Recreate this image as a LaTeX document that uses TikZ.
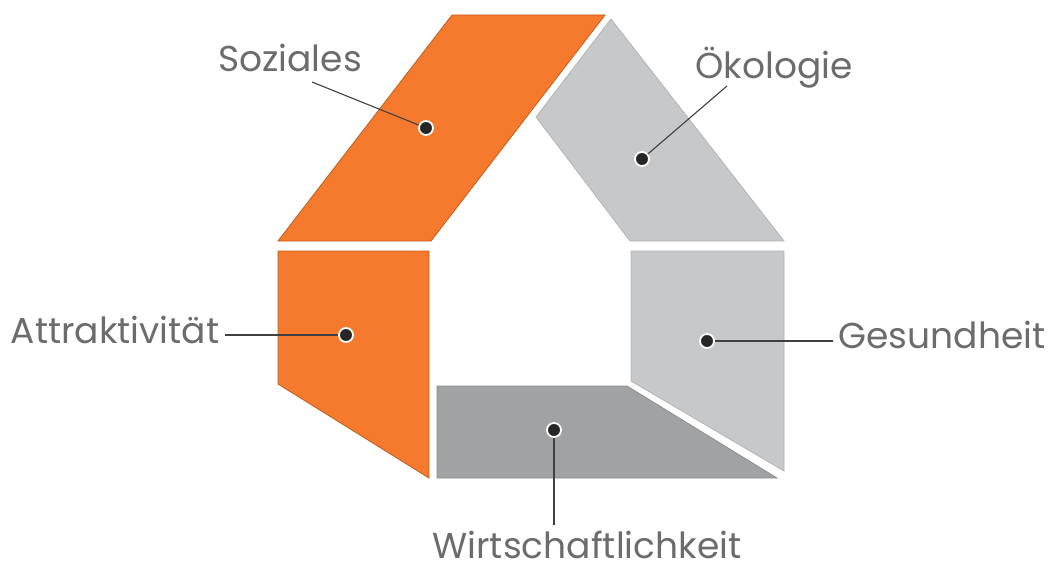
\documentclass[tikz,border=0pt]{standalone}
\usepackage{fontspec}
\setmainfont{Poppins}
\usepackage{tikz}
\usetikzlibrary{positioning}
\definecolor{hausorange}{RGB}{246,122,46}
\definecolor{hausorangerand}{RGB}{196,92,24}
\definecolor{hausgrau}{RGB}{198,200,202}
\definecolor{hausgraurand}{RGB}{178,180,182}
\definecolor{hausdunkel}{RGB}{160,162,164}
\definecolor{hausdunkelrand}{RGB}{140,142,144}
\definecolor{textgrau}{RGB}{108,108,108}

\begin{document}
\begin{tikzpicture}[x=1pt,y=-1pt,
  lbl/.style={font=\fontsize{36}{42}\selectfont,text=textgrau,anchor=base,inner sep=0pt,outer sep=6pt},
  dot/.style={circle,fill=black!85,draw=white,line width=1.8pt,minimum size=14pt,inner sep=0pt},
  leader/.style={draw=black!75,line width=1.1pt},
  part/.style={line width=0.8pt,line join=miter}
]
  \useasboundingbox (0,0) rectangle (1051,572);
  % Dach und Waende
  \filldraw[part,fill=hausorange,draw=hausorangerand] (452,15) -- (605,15) -- (431,241) -- (278,241) -- cycle;
  \filldraw[part,fill=hausgrau,draw=hausgraurand] (611,19) -- (784,241) -- (630,241) -- (536,117) -- cycle;
  \filldraw[part,fill=hausorange,draw=hausorangerand] (278,251) -- (429,251) -- (429,478) -- (278,384) -- cycle;
  \filldraw[part,fill=hausgrau,draw=hausgraurand] (631,251) -- (784,251) -- (784,471) -- (631,381) -- cycle;
  \filldraw[part,fill=hausdunkel,draw=hausdunkelrand] (437,386) -- (627,386) -- (777,478) -- (437,478) -- cycle;

  % Beschriftungen
  \node[lbl] (soz) at (290,72) {Soziales};
  \node[lbl] (oko) at (774,79) {Ökologie};
  \node[lbl] (att) at (115,343) {Attraktivität};
  \node[lbl] (ges) at (942,348) {Gesundheit};
  \node[lbl] (wirt) at (587,558) {Wirtschaftlichkeit};
  \coordinate (sozend) at (312,82);
  \coordinate (okoend) at (727,86);

  % Punkte
  \node[dot] (sozdot) at (426,128) {};
  \node[dot] (okodot) at (642,159) {};
  \node[dot] (attdot) at (346,335) {};
  \node[dot] (gesdot) at (707,341) {};
  \node[dot] (wirtdot) at (554,430) {};

  \draw[leader] (sozend) -- (sozdot);
  \draw[leader] (okoend) -- (okodot);
  \draw[leader] (attdot -| att.east) -- (attdot);
  \draw[leader] (gesdot) -- (gesdot -| ges.west);
  \draw[leader] (wirtdot) -- (wirtdot |- wirt.north);
\end{tikzpicture}
\end{document}
